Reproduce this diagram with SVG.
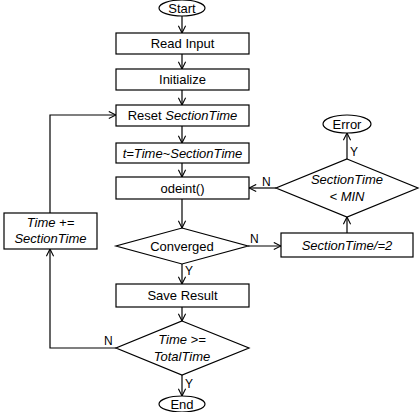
<svg xmlns="http://www.w3.org/2000/svg" width="420" height="412" viewBox="0 0 420 412">
<defs>
<marker id="a" viewBox="0 0 10 10" refX="9" refY="5" markerWidth="9" markerHeight="9" markerUnits="userSpaceOnUse" orient="auto">
<path d="M1,1 L9,5 L1,9" fill="none" stroke="#000" stroke-width="1.2"/>
</marker>
<style>
.s{fill:#fff;stroke:#000;stroke-width:1.2}
.t{font-family:"Liberation Sans",Arial,sans-serif;font-size:13px;text-anchor:middle;fill:#000}
.i{font-style:italic}
.l{font-family:"Liberation Sans",Arial,sans-serif;font-size:12px;fill:#000}
.c{fill:none;stroke:#000;stroke-width:1.2;marker-end:url(#a)}
</style>
</defs>
<rect width="420" height="412" fill="#fff"/>
<g id="connectors">
<line class="c" x1="182" y1="16" x2="182" y2="33"/>
<line class="c" x1="182" y1="54" x2="182" y2="69"/>
<line class="c" x1="182" y1="90" x2="182" y2="105"/>
<line class="c" x1="182" y1="126" x2="182" y2="143"/>
<line class="c" x1="182" y1="163" x2="182" y2="177"/>
<line class="c" x1="182" y1="199" x2="182" y2="228"/>
<line class="c" x1="182" y1="264" x2="182" y2="284"/>
<line class="c" x1="182" y1="307" x2="182" y2="321"/>
<line class="c" x1="182" y1="375" x2="182" y2="396"/>
<line class="c" x1="248" y1="246" x2="281" y2="246"/>
<line class="c" x1="347" y1="233" x2="347" y2="217"/>
<line class="c" x1="347" y1="159" x2="347" y2="133"/>
<line class="c" x1="276" y1="188" x2="249" y2="188"/>
<polyline class="c" points="116,348 50,348 50,249"/>
<polyline class="c" points="50,213 50,115 116,115"/>
<text class="l" x="185" y="275">Y</text>
<text class="l" x="185" y="388">Y</text>
<text class="l" x="250" y="243">N</text>
<text class="l" x="262" y="186">N</text>
<text class="l" x="350" y="156">Y</text>
<text class="l" x="104" y="345">N</text>
</g>
<g id="start"><ellipse class="s" cx="182" cy="8" rx="23" ry="8"/><text class="t" x="182" y="12.5">Start</text></g>
<g id="read"><rect class="s" x="116" y="33" width="133" height="21"/><text class="t" x="182.5" y="48">Read Input</text></g>
<g id="init"><rect class="s" x="116" y="69" width="133" height="21"/><text class="t" x="182.5" y="84">Initialize</text></g>
<g id="reset"><rect class="s" x="116" y="105" width="133" height="21"/><text class="t" x="182.5" y="120">Reset <tspan class="i">SectionTime</tspan></text></g>
<g id="tset"><rect class="s" x="116" y="143" width="133" height="20"/><text class="t i" x="182.5" y="157.5">t=Time~SectionTime</text></g>
<g id="odeint"><rect class="s" x="116" y="177" width="133" height="22"/><text class="t" x="182.5" y="192.5">odeint()</text></g>
<g id="converged"><polygon class="s" points="182,228 248,246 182,264 116,246"/><text class="t" x="182" y="250.5">Converged</text></g>
<g id="halve"><rect class="s" x="281" y="233" width="132" height="24"/><text class="t i" x="347" y="249.5">SectionTime/=2</text></g>
<g id="check"><polygon class="s" points="347,159 418,188 347,217 276,188"/><text class="t i" x="347" y="184">SectionTime</text><text class="t i" x="347" y="201">&lt; MIN</text></g>
<g id="error"><ellipse class="s" cx="347" cy="124" rx="24" ry="9"/><text class="t" x="347" y="128.5">Error</text></g>
<g id="save"><rect class="s" x="116" y="284" width="133" height="23"/><text class="t" x="182.5" y="300">Save Result</text></g>
<g id="total"><polygon class="s" points="182,321 249,348 182,375 116,348"/><text class="t i" x="182" y="344">Time &gt;=</text><text class="t i" x="182" y="361">TotalTime</text></g>
<g id="end"><ellipse class="s" cx="182" cy="404" rx="23" ry="8"/><text class="t" x="182" y="408.5">End</text></g>
<g id="inc"><rect class="s" x="4" y="213" width="93" height="36"/><text class="t i" x="50.5" y="227">Time +=</text><text class="t i" x="50.5" y="243">SectionTime</text></g>
</svg>
